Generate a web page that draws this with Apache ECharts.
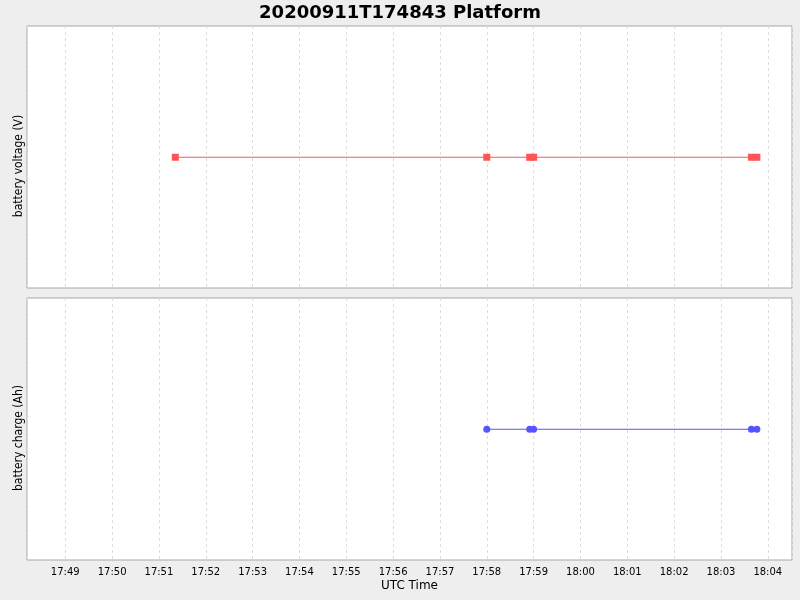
<!DOCTYPE html>
<html>
<head>
<meta charset="utf-8">
<script src="https://cdn.jsdelivr.net/npm/echarts@6/dist/echarts.min.js"></script>
<style>
  html, body { margin: 0; padding: 0; background: #eeeeee; }
  #main { width: 800px; height: 600px; }
</style>
</head>
<body>
<div id="main"></div>
<script>
// sample times (UTC, 2020-09-11)
const voltageTimes = ['17:51:21', '17:58:00', '17:58:55', '17:59:00', '18:03:39', '18:03:46']
const voltageValues = [0, 0, 0, 0, 0, 0]
const chargeTimes = ['17:58:00', '17:58:55', '17:59:00', '18:03:39', '18:03:46']
const chargeValues = [0, 0, 0, 0, 0]
const axisStart = '17:48:11'
const axisEnd = '18:04:31'

const toMs = (t) => Date.parse('2020-09-11T' + t + 'Z')
const pad = (n) => (n < 10 ? '0' : '') + n
const fmt = (v) => {
  const d = new Date(v)
  return pad(d.getUTCHours()) + ':' + pad(d.getUTCMinutes())
}
const pairs = (times, vals) => times.map((t, i) => [toMs(t), vals[i]])

const font = 'DejaVu Sans'
const gridBase = { left: 27, width: 765, height: 262, show: true, backgroundColor: '#ffffff', borderColor: '#a8a8a8', borderWidth: 1 }

const xAxisBase = {
  type: 'time',
  min: toMs(axisStart),
  max: toMs(axisEnd),
  minInterval: 60000,
  maxInterval: 60000,
  axisLine: { show: false },
  axisTick: { show: false },
  splitLine: { show: true, lineStyle: { color: '#dddddd', type: [3, 3], width: 1 } },
}

// labels sit a little below the panel middle, as in the original
const yAxisBase = {
  type: 'value',
  axisLine: { show: false },
  axisTick: { show: false },
  axisLabel: { show: false },
  splitLine: { show: false },
  nameLocation: 'middle',
  nameGap: 2,
  nameTextStyle: { fontFamily: 'DejaVu Sans Condensed, DejaVu Sans', fontSize: 12, color: '#000', padding: [0, 18, 0, 0] },
}

const chart = echarts.init(document.getElementById('main'))
chart.setOption({
  backgroundColor: '#eeeeee',
  animation: false,
  title: {
    text: '20200911T174843 Platform',
    left: 'center',
    top: -1,
    textStyle: { fontFamily: font, fontSize: 18, fontWeight: 'bold', color: '#000' },
  },
  grid: [
    Object.assign({ top: 26 }, gridBase),
    Object.assign({ top: 298 }, gridBase),
  ],
  xAxis: [
    Object.assign({ gridIndex: 0, axisLabel: { show: false } }, xAxisBase),
    Object.assign({
      gridIndex: 1,
      name: 'UTC Time',
      nameLocation: 'middle',
      nameGap: 20,
      nameTextStyle: { fontFamily: font, fontSize: 12, color: '#000' },
      axisLabel: { fontFamily: font, fontSize: 10, color: '#000', margin: 7, formatter: fmt, showMinLabel: false, showMaxLabel: false },
    }, xAxisBase),
  ],
  yAxis: [
    Object.assign({ gridIndex: 0, name: 'battery voltage (V)', min: -1, max: 1.004 }, yAxisBase),
    Object.assign({ gridIndex: 1, name: 'battery charge (Ah)', min: -1, max: 1.004 }, yAxisBase),
  ],
  series: [
    {
      name: 'battery voltage',
      type: 'line',
      xAxisIndex: 0,
      yAxisIndex: 0,
      data: pairs(voltageTimes, voltageValues),
      symbol: 'rect',
      symbolSize: 7,
      showAllSymbol: true,
      itemStyle: { color: '#ff5555' },
      lineStyle: { color: '#ff5555', width: 1 },
    },
    {
      name: 'battery charge',
      type: 'line',
      xAxisIndex: 1,
      yAxisIndex: 1,
      data: pairs(chargeTimes, chargeValues),
      symbol: 'circle',
      symbolSize: 7,
      showAllSymbol: true,
      itemStyle: { color: '#5555ff' },
      lineStyle: { color: '#5555ff', width: 1 },
    },
  ],
})
</script>
</body>
</html>
